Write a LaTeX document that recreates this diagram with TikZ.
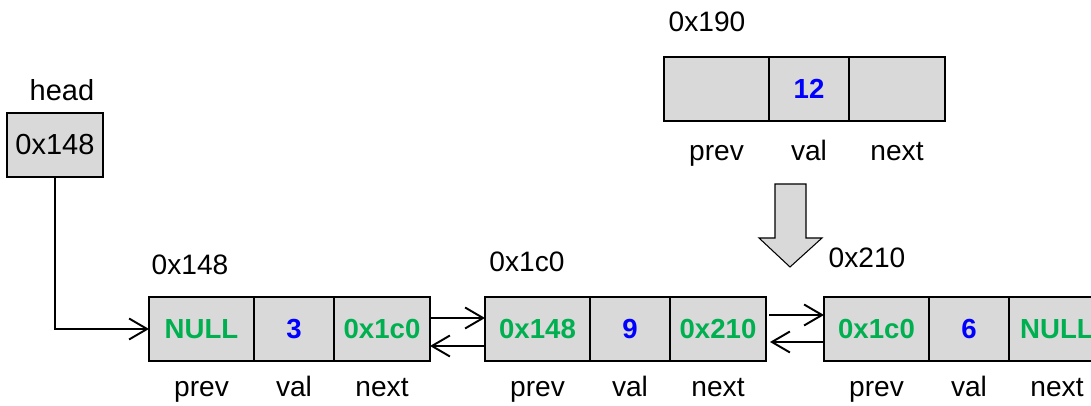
\documentclass[tikz,border=0pt]{standalone}
\usepackage{fontspec}
\setmainfont{Liberation Sans}
\usepackage{tikz}
\usetikzlibrary{arrows.meta,positioning}

\definecolor{cellgray}{HTML}{D9D9D9}
\definecolor{ptrgreen}{HTML}{00B050}
\definecolor{valblue}{HTML}{0000FF}

\tikzset{
	cellbox/.style={draw, fill=cellgray, line width=1.1pt, inner sep=0pt, outer sep=0pt,
		minimum height=1.28cm, font=\bfseries\fontsize{15.7}{18}\selectfont},
	prevcell/.style={cellbox, minimum width=2.1cm, text=ptrgreen},
	valcell/.style={cellbox, minimum width=1.6cm, text=valblue},
	nextcell/.style={cellbox, minimum width=1.92cm, text=ptrgreen},
	addr/.style={font=\fontsize{16}{18}\selectfont},
	field/.style={anchor=base, font=\fontsize{16}{18}\selectfont},
	link/.style={line width=1.1pt, -{Straight Barb[length=0.36cm, width=0.42cm]}}
}

\begin{document}
\begin{tikzpicture}
	\useasboundingbox (0,0) rectangle (21.82,8.12);
	\clip (0,0) rectangle (21.82,8.12);

	% head pointer
	\node (headlbl) at (1.24,6.32) {\fontsize{16.5}{19}\selectfont head};
	\node [draw, fill=cellgray, line width=1.1pt, inner sep=0pt, outer sep=0pt,
		minimum width=1.92cm, minimum height=1.28cm,
		font=\fontsize{16.5}{19}\selectfont] (headbox) at (1.10,5.22) {0x148};

	% first node
	\node [prevcell, anchor=west] (p1) at (2.98,1.54) {NULL};
	\node [valcell, right=0pt of p1] (v1) {3};
	\node [nextcell, right=0pt of v1] (n1) {0x1c0};
	\node [addr] (a1) at (3.80,2.82) {0x148};

	% second node
	\node [prevcell, anchor=west] (p2) at (9.70,1.54) {0x148};
	\node [valcell, right=0pt of p2] (v2) {9};
	\node [nextcell, right=0pt of v2] (n2) {0x210};
	\node [addr] (a2) at (10.54,2.88) {0x1c0};

	% third node
	\node [prevcell, anchor=west] (p3) at (16.48,1.54) {0x1c0};
	\node [valcell, right=0pt of p3] (v3) {6};
	\node [nextcell, right=0pt of v3] (n3) {NULL};
	\node [addr] (a3) at (17.34,2.96) {0x210};

	% new node to insert
	\node [prevcell, anchor=west] (pt) at (13.28,6.34) {};
	\node [valcell, right=0pt of pt] (vt) {12};
	\node [nextcell, right=0pt of vt] (nt) {};
	\node [addr] (at) at (14.14,7.68) {0x190};

	% field names
	\foreach \c in {p1,v1,n1,p2,v2,n2,p3,v3,n3}
		\path (\c.south) ++(0,-0.72) coordinate (\c-f);
	\node [field] (f1) at (p1-f) {prev};
	\node [field] (f2) at (v1-f) {val};
	\node [field] (f3) at (n1-f) {next};
	\node [field] (f4) at (p2-f) {prev};
	\node [field] (f5) at (v2-f) {val};
	\node [field] (f6) at (n2-f) {next};
	\node [field] (f7) at (p3-f) {prev};
	\node [field] (f8) at (v3-f) {val};
	\node [field] (f9) at (n3-f) {next};
	\node [field] (ft1) at ([yshift=-0.8cm]pt.south) {prev};
	\node [field] (ft2) at ([yshift=-0.8cm]vt.south) {val};
	\node [field] (ft3) at ([yshift=-0.8cm]nt.south) {next};

	% links
	\draw [link] (headbox.south) |- (p1.west);
	\draw [link] ([yshift=0.22cm]n1.east) -- ([yshift=0.22cm]p2.west);
	\draw [link] ([yshift=-0.34cm]p2.west) -- ([yshift=-0.34cm]n1.east);
	\draw [link] ([xshift=0.06cm, yshift=0.28cm]n2.east) -- ([yshift=0.28cm]p3.west);
	\draw [link] ([yshift=-0.26cm]p3.west) -- ([xshift=0.08cm, yshift=-0.26cm]n2.east);

	% insert arrow
	\draw [fill=cellgray, line width=0.6pt]
		(15.50,4.44) -- (16.12,4.44) -- (16.12,3.36) -- (16.44,3.36)
		-- (15.80,2.78) -- (15.18,3.36) -- (15.50,3.36) -- cycle;
\end{tikzpicture}
\end{document}
